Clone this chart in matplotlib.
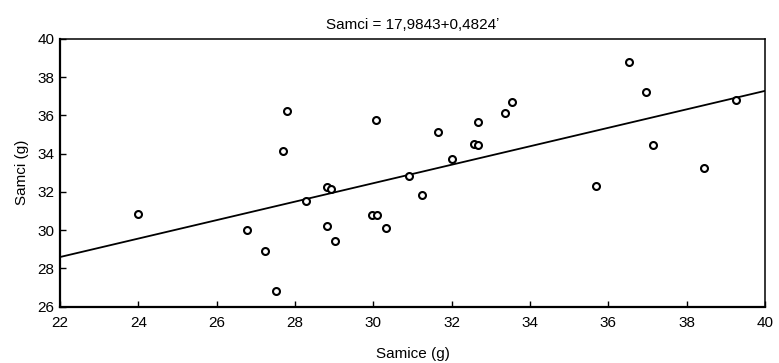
import numpy as np
import matplotlib.pyplot as plt

plt.rcParams['font.family'] = ['Liberation Sans', 'DejaVu Sans']

# body weights
samice = [24.0, 26.78, 27.23, 27.52, 27.69, 27.79, 28.28, 28.81, 28.92, 28.82,
          29.02, 29.97, 30.1, 30.32, 30.08, 30.9, 31.24, 31.66, 32.01, 32.57,
          32.68, 32.67, 33.35, 33.55, 35.68, 36.54, 36.97, 37.13, 38.45, 39.27]
samci = [30.83, 30.02, 28.91, 26.81, 34.15, 36.25, 31.53, 32.24, 32.14, 30.22,
         29.41, 30.82, 30.82, 30.1, 35.75, 32.83, 31.82, 35.14, 33.73, 34.53,
         34.44, 35.64, 36.13, 36.72, 32.33, 38.8, 37.22, 34.44, 33.23, 36.82]

intercept = 17.9843
slope = 0.4824

fig = plt.figure(figsize=(7.79, 3.63), dpi=100)
ax = fig.add_axes([0.077, 0.155, 0.905, 0.738])

xl = np.array([22, 40])
ax.plot(xl, intercept + slope * xl, c='k', lw=1.3)
ax.scatter(samice, samci, s=25, facecolors='white', edgecolors='k', linewidths=1.5, zorder=3)

ax.set_xlim(22, 40)
ax.set_ylim(26, 40)
ax.set_xticks(np.arange(22, 41, 2))
ax.set_yticks(np.arange(26, 41, 2))
ax.tick_params(direction='in', length=4, width=1, labelsize=11, pad=7)
ax.tick_params(axis='y', pad=4)
for side in ['left', 'bottom']:
    ax.spines[side].set_linewidth(1.6)
for side in ['top', 'right']:
    ax.spines[side].set_linewidth(1.1)

ax.set_title('Samci = 17,9843+0,4824\u02bc', fontsize=11, pad=7)
ax.set_xlabel('Samice (g)', fontsize=11, labelpad=12)
ax.set_ylabel('Samci (g)', fontsize=11, labelpad=6)

fig.savefig('out.png', dpi=100)
